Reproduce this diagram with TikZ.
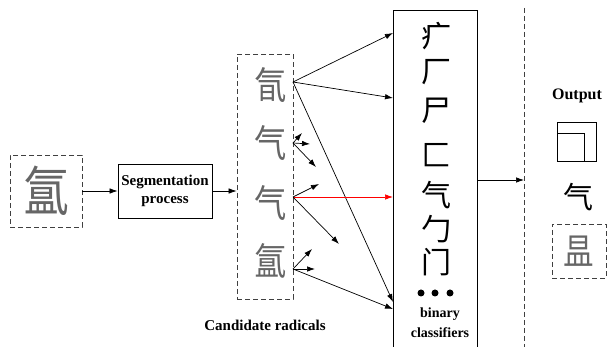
\documentclass[tikz,border=0pt]{standalone}
\usepackage{fontspec}
\setmainfont{Liberation Serif}
\newfontfamily\cjk{Noto Sans CJK SC}
\usetikzlibrary{arrows.meta}

\begin{document}
\begin{tikzpicture}[x=1pt,y=-1pt,
  arr/.style={-{Latex[length=8pt,width=5.5pt]},line width=0.7pt},
  dashbox/.style={draw=black!75,dash pattern=on 5pt off 3pt,line width=0.8pt},
  hand/.style={font=\cjk\fontsize{38}{38}\selectfont,text=black!60,inner sep=0pt,transform shape,xscale=0.85},
  radical/.style={font=\cjk\fontsize{30}{30}\selectfont,inner sep=0pt},
  lbl/.style={font=\bfseries\fontsize{15}{18}\selectfont,align=center,inner sep=0pt}]

\useasboundingbox (0,0) rectangle (614,347);

% input and segmentation
\node[dashbox,minimum width=72,minimum height=72] (in) at (46,191) {};
\node[hand,font=\cjk\fontsize{54}{54}\selectfont] (inch) at (in) {氲};
\node[draw,line width=0.8pt,minimum width=94,minimum height=54,lbl] (seg) at (165,191) {Segmentation\\process};

% candidate radicals
\node[dashbox,minimum width=56,minimum height=245] (cand) at (265,176.5) {};
\node[hand] (r1) at (271,85) {氜};
\node[hand] (r2) at (271,143) {气};
\node[hand] (r3) at (271,203) {气};
\node[hand] (r4) at (271,261) {氲};
\node[lbl] (candlbl) at (265,325) {Candidate radicals};

\coordinate (c1) at (293,82);
\coordinate (c2) at (293,143);
\coordinate (c3) at (293,197);
\coordinate (c4) at (293,269);

% binary classifiers
\coordinate (b0) at (393,347);
\coordinate (b1) at (393,10);
\coordinate (b2) at (477,10);
\coordinate (b3) at (477,347);
\draw[line width=0.8pt] (b0)--(b1)--(b2)--(b3);

\node[radical] (k1) at (436,36) {疒};
\node[radical] (k2) at (436,72) {厂};
\node[radical] (k3) at (436,111) {尸};
\node[radical] (k4) at (436,155) {匚};
\node[radical] (k5) at (436,195) {气};
\node[radical] (k6) at (436,229) {勹};
\node[radical] (k7) at (436,262) {门};
\foreach \x in {421,435,450}
  \fill (\x,293) circle (3.5pt);
\node[lbl,font=\bfseries\fontsize{14}{20}\selectfont] (cls) at (440,323) {binary\\classifiers};

\coordinate (e1) at (393,33);
\coordinate (e2) at (393,98);
\coordinate (e3) at (393,197);
\coordinate (e4) at (393,302);
\coordinate (e5) at (393,309);
\coordinate (out) at (477,180);

% output side
\coordinate (d0) at (524,8);
\coordinate (d1) at (524,347);
\coordinate (d2) at (524,180);
\draw[dashbox] (d0)--(d1);

\node[lbl,font=\bfseries\fontsize{16}{18}\selectfont] (outlbl) at (577,96) {Output};
\draw[line width=0.8pt] (557,122) rectangle (596,161);
\draw[line width=0.8pt] (557,133) rectangle (584,161);
\node[radical] (rad) at (578,197) {气};
\node[dashbox,minimum width=54,minimum height=54] (rest) at (579,251) {};
\node[hand,font=\cjk\fontsize{36}{36}\selectfont] (restch) at (rest) {昷};

% connectors
\draw[arr] (in.east) -- (seg.west);
\draw[arr] (seg.east) -- (cand.west |- seg.east);
\draw[arr] (c1) -- (e1);
\draw[arr] (c1) -- (e2);
\draw[arr] (c1) -- (e4);
\draw[arr] (c2) -- (302,133);
\draw[arr] (c2) -- (310,144);
\draw[arr] (c2) -- (316,167);
\draw[arr,red] (c3) -- (e3);
\draw[arr] (c3) -- (319,184);
\draw[arr] (c3) -- (339,244);
\draw[arr] (c4) -- (312,249);
\draw[arr] (c4) -- (315,269);
\draw[arr] (c4) -- (e5);
\draw[arr] (out) -- (d2);

\end{tikzpicture}
\end{document}
